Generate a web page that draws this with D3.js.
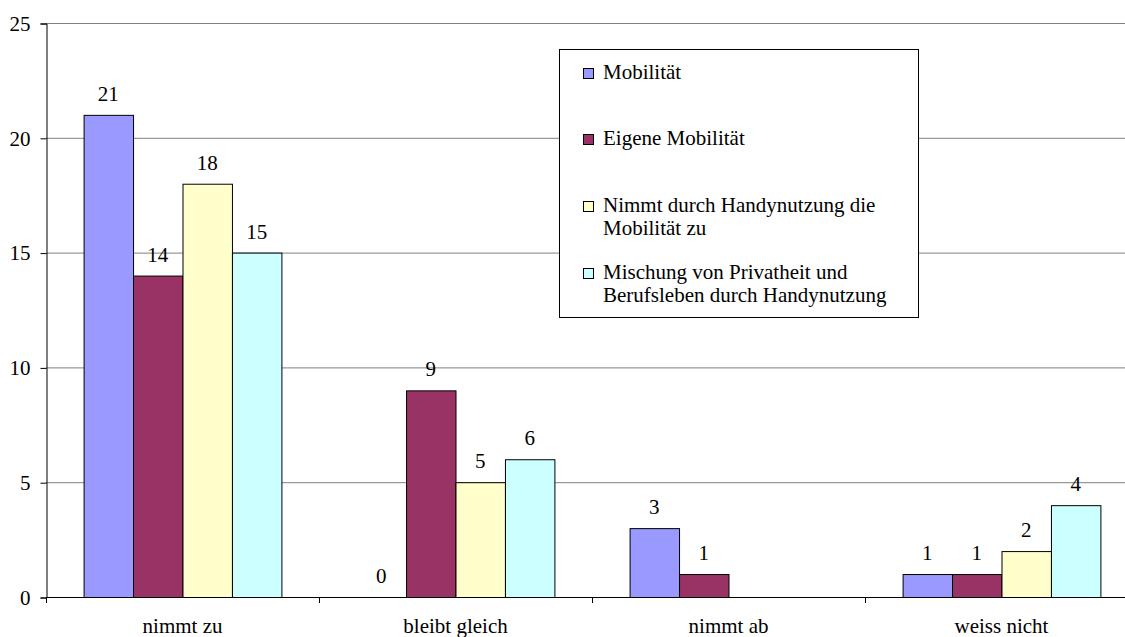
<!DOCTYPE html>
<html><head><meta charset="utf-8">
<script src="https://cdn.jsdelivr.net/npm/d3@7"></script>
<style>body{margin:0;background:#fff}svg{display:block}</style>
</head><body>
<svg id="c" width="1125" height="637"></svg>
<script>
const categories = ["nimmt zu","bleibt gleich","nimmt ab","weiss nicht"];
const seriesNames = [["Mobilität"],["Eigene Mobilität"],["Nimmt durch Handynutzung die","Mobilität zu"],["Mischung von Privatheit und","Berufsleben durch Handynutzung"]];
const mobilitaet = [21, 0, 3, 1];
const eigeneMobilitaet = [14, 9, 1, 1];
const handyMobilitaet = [18, 5, null, 2];
const mischung = [15, 6, null, 4];
const yTicks = [0,5,10,15,20,25];
const colors = ["#9999FF","#993366","#FFFFCC","#CCFFFF"];

(function(){
const FONT = "Liberation Serif";
const FS = "21px";
const series = [mobilitaet, eigeneMobilitaet, handyMobilitaet, mischung];
const svg = d3.select("#c");
const pl = 46, pt = 23, pb = 597, bandW = 273;
const x = d3.scaleBand().domain(categories).range([pl, pl + bandW*categories.length]).paddingInner(0).paddingOuter(0);
const y = d3.scaleLinear().domain([0,25]).range([pb, pt]);
const inner = d3.scaleBand().domain(d3.range(series.length)).range([0, bandW]).paddingOuter(0.76).paddingInner(0);

svg.append("g").selectAll("line").data(yTicks.filter(d=>d>0)).join("line")
  .attr("x1", pl).attr("x2", 1125).attr("y1", d=>y(d)+0.5).attr("y2", d=>y(d)+0.5)
  .attr("stroke","#808080").attr("stroke-width",1);

const ya = svg.append("g").attr("transform",`translate(${pl+0.5},0.5)`)
  .call(d3.axisLeft(y).tickValues(yTicks).tickSize(6).tickPadding(10).tickFormat(d3.format("d")));
ya.select(".domain").attr("stroke","#000");
ya.selectAll(".tick line").attr("stroke","#000");
ya.selectAll("text").attr("fill","#000").style("font-family",FONT).style("font-size",FS);

const data = [];
categories.forEach((c,i)=>series.forEach((s,j)=>{ if(s[i]!==null) data.push({c, j, v:s[i]}); }));
svg.append("g").selectAll("rect").data(data.filter(d=>d.v>0)).join("rect")
  .attr("x", d=>x(d.c)+inner(d.j)+0.5).attr("width", inner.bandwidth())
  .attr("y", d=>y(d.v)+0.5).attr("height", d=>y(0)-y(d.v))
  .attr("fill", d=>colors[d.j]).attr("stroke","#000").attr("stroke-width",1);

svg.append("g").selectAll("text").data(data).join("text")
  .attr("x", d=>x(d.c)+inner(d.j)+inner.bandwidth()/2).attr("y", d=>y(d.v)-14)
  .attr("text-anchor","middle").attr("fill","#000").style("font-family",FONT).style("font-size",FS).text(d=>d.v);

const xa = svg.append("g").attr("transform",`translate(0,${pb+0.5})`)
  .call(d3.axisBottom(x).tickSize(0).tickPadding(21));
xa.select(".domain").attr("stroke","#000").attr("d",`M${pl},0H1125`);
xa.selectAll("text").attr("fill","#000").style("font-family",FONT).style("font-size",FS);
svg.append("g").selectAll("line").data(categories).join("line")
  .attr("x1", d=>x(d)+0.5).attr("x2", d=>x(d)+0.5).attr("y1", pb).attr("y2", pb+6)
  .attr("stroke","#000");

const lg = svg.append("g");
lg.append("rect").attr("x",559.5).attr("y",49.5).attr("width",359).attr("height",268)
  .attr("fill","#fff").attr("stroke","#000");
const itemY = [79, 145, 212, 279];
seriesNames.forEach((lines,i)=>{
  lg.append("rect").attr("x",583.5).attr("y",itemY[i]-10.5).attr("width",10).attr("height",10)
    .attr("fill",colors[i]).attr("stroke","#000");
  lines.forEach((t,k)=>{
    lg.append("text").attr("x", 603).attr("y", itemY[i]+k*23)
      .attr("fill","#000").style("font-family",FONT).style("font-size",FS).text(t);
  });
});
})();
</script>
</body></html>
